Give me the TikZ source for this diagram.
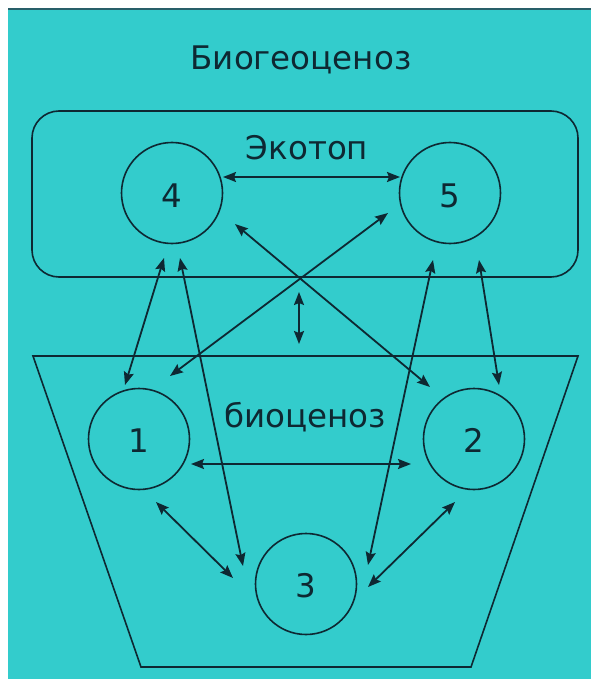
\documentclass[tikz,border=0pt]{standalone}
\usepackage{fontspec}
\setmainfont{DejaVu Sans}
\usetikzlibrary{arrows.meta}
\definecolor{bgcyan}{RGB}{51,204,204}
\definecolor{ink}{RGB}{14,40,50}
\definecolor{edgeline}{RGB}{40,95,105}
\begin{document}
\begin{tikzpicture}[x=1pt,y=-1pt,
  lbl/.style={font=\fontsize{32.5}{36}\selectfont, text=ink, inner sep=0pt, anchor=base},
  unit/.style={circle, draw=ink, line width=1.6pt, minimum size=101pt, inner sep=0pt},
  link/.style={draw=ink, line width=1.8pt, {Stealth[length=13pt,width=10pt,inset=2pt]}-{Stealth[length=13pt,width=10pt,inset=2pt]}},
  frame/.style={draw=ink, line width=1.6pt}]
\useasboundingbox (0,0) rectangle (591,679);
\fill[white] (0,0) rectangle (591,679);
\fill[bgcyan] (8,8) rectangle (591,679);
\draw[edgeline, line width=2pt] (8,9) -- (591,9);

% frames
\draw[frame, rounded corners=27pt] (32,111) rectangle (578,277);
\draw[frame] (33,356) -- (578,356) -- (471,667) -- (141,667) -- cycle;

% labels
\node[lbl] (title) at (301,70) {Биогеоценоз};
\node[lbl] (eco) at (307,160) {Экотоп};
\node[lbl] (bio) at (305,427) {биоценоз};

% circles
\node[unit] (c4) at (172,193) {};
\node[unit] (c5) at (450,193) {};
\node[unit] (c1) at (139,439) {};
\node[unit] (c2) at (474,439) {};
\node[unit] (c3) at (306,584) {};
\node[lbl] (n4) at (172,207) {4};
\node[lbl] (n5) at (450,207) {5};
\node[lbl] (n1) at (139,452) {1};
\node[lbl] (n2) at (474,452) {2};
\node[lbl] (n3) at (306,597) {3};

% arrow end points
\coordinate (p45a) at (223,177);
\coordinate (p45b) at (400,177);
\coordinate (p41a) at (164,258);
\coordinate (p41b) at (125,385);
\coordinate (p43a) at (180,258);
\coordinate (p43b) at (243,566);
\coordinate (p51a) at (388,213);
\coordinate (p51b) at (170,376);
\coordinate (p42a) at (235,224);
\coordinate (p42b) at (430,387);
\coordinate (p53a) at (433,260);
\coordinate (p53b) at (368,565);
\coordinate (p52a) at (479,260);
\coordinate (p52b) at (499,385);
\coordinate (pmida) at (299,292);
\coordinate (pmidb) at (299,344);
\coordinate (p12a) at (191,464);
\coordinate (p12b) at (411,464);
\coordinate (p13a) at (156,502);
\coordinate (p13b) at (233,578);
\coordinate (p23a) at (455,502);
\coordinate (p23b) at (368,587);

% connectors
\draw[link] (p45a) -- (p45b);
\draw[link] (p41a) -- (p41b);
\draw[link] (p43a) -- (p43b);
\draw[link] (p51a) -- (p51b);
\draw[link] (p42a) -- (p42b);
\draw[link] (p53a) -- (p53b);
\draw[link] (p52a) -- (p52b);
\draw[link] (pmida) -- (pmidb);
\draw[link] (p12a) -- (p12b);
\draw[link] (p13a) -- (p13b);
\draw[link] (p23a) -- (p23b);
\end{tikzpicture}
\end{document}
